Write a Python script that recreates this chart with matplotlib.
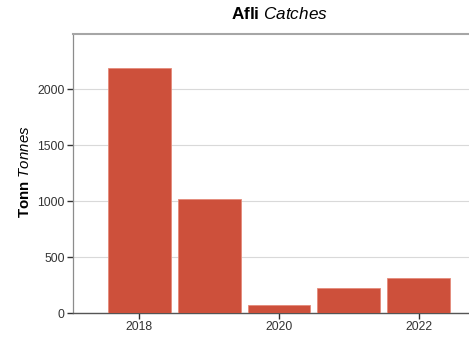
import matplotlib
matplotlib.use("Agg")
import matplotlib.pyplot as plt

years = [2018, 2019, 2020, 2021, 2022]
catches = [2190, 1020, 70, 220, 310]
yticks = [0, 500, 1000, 1500, 2000]
xticks = [2018, 2020, 2022]

plt.rcParams['font.family'] = ['Liberation Sans', 'DejaVu Sans']
plt.rcParams['mathtext.fontset'] = 'custom'
plt.rcParams['mathtext.rm'] = 'Liberation Sans'
plt.rcParams['mathtext.bf'] = 'Liberation Sans:bold'
plt.rcParams['mathtext.it'] = 'Liberation Sans:italic'

W, H = 469, 340
fig = plt.figure(figsize=(W/100, H/100), dpi=100)
left, right, bottom, top = 73, 485, 27, 306.5
ax = fig.add_axes([left/W, bottom/H, (right-left)/W, (top-bottom)/H])

ax.bar(years, catches, width=0.9, color='#cd503b', edgecolor='#e48a7a', linewidth=0.6, zorder=3)
ax.set_xlim(2017.05, 2022.95)
ax.set_ylim(0, 2500)
ax.set_yticks(yticks)
ax.set_xticks(xticks)
ax.set_xticklabels([str(x) for x in xticks])
ax.grid(axis='y', color='#d9d9d9', linewidth=0.8, zorder=0)
ax.set_axisbelow(True)

ax.spines['right'].set_visible(False)
ax.spines['top'].set_color('#a6a6a6')
ax.spines['top'].set_linewidth(1.5)
ax.spines['left'].set_color('#8c8c8c')
ax.spines['left'].set_linewidth(0.9)
ax.spines['bottom'].set_color('#555555')
ax.spines['bottom'].set_linewidth(1.0)

ax.tick_params(axis='both', labelsize=8.8, colors='#333333', length=4, width=1.0, pad=2)

fig.text(279/W, 1 - 14/H, r"$\bf{Afli}$ $\it{Catches}$", ha='center', va='center', fontsize=12.3)
fig.text(25/W, 1 - 172/H, r"$\bf{Tonn}$ $\it{Tonnes}$", ha='center', va='center', rotation=90, fontsize=10.8)

fig.savefig("out.png", dpi=100)
